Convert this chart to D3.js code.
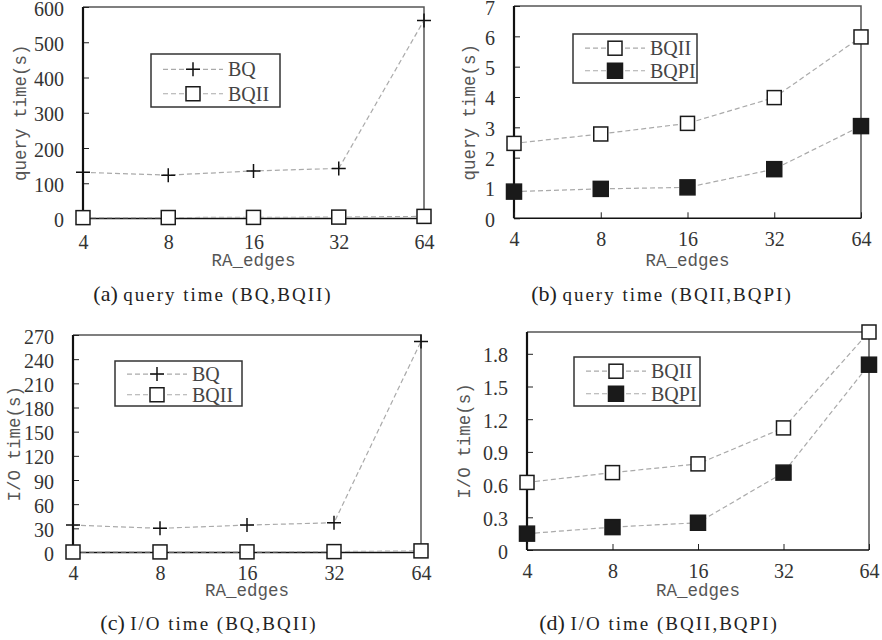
<!DOCTYPE html>
<html>
<meta charset="utf-8">
<style>
    body { margin: 0; background: #fff; }
    .tick text { font: 20px "Liberation Serif", serif; fill: #333; }
    .axtitle { font: 17.5px "Liberation Mono", monospace; fill: #555; }
    .legend text { font: 20px "Liberation Serif", serif; fill: #444; }
    .caption { font: 19px "Liberation Serif", serif; fill: #222; letter-spacing: 2px; }
</style>
<body>
<script src="https://d3js.org/d3.v7.min.js"></script>
<script>

    // data
    var edges = ["4", "8", "16", "32", "64"];

    var queryBQ   = [131, 123, 135, 142, 562];
    var queryBQII = [2.47, 2.78, 3.13, 3.98, 5.98];
    var queryBQPI = [0.88, 0.97, 1.02, 1.62, 3.04];

    var ioBQ   = [34, 30, 34, 37, 262];
    var ioBQII = [0.62, 0.71, 0.79, 1.12, 2.0];
    var ioBQPI = [0.15, 0.21, 0.25, 0.71, 1.70];

    var ticksA = [0, 100, 200, 300, 400, 500, 600];
    var ticksB = [0, 1, 2, 3, 4, 5, 6, 7];
    var ticksC = [0, 30, 60, 90, 120, 150, 180, 210, 240, 270];
    var ticksD = [0, 0.3, 0.6, 0.9, 1.2, 1.5, 1.8];

    var W = 882, H = 640;

    var svg = d3.select("body").append("svg")
        .attr("width", W)
        .attr("height", H);

    var panels = [
        {left: 83, right: 424, top: 7, bottom: 218.5, ymax: 600, ticks: ticksA, fmt: d3.format("d"),
         ytitle: "query time(s)", ytx: 20, xlabY: 249, xtitleY: 266,
         series: [{name: "BQ", values: queryBQ, mark: "plus"}, {name: "BQII", values: queryBQII, mark: "open"}],
         legend: {x: 151, y: 54, w: 129, h: 53},
         tag: "(a)", caption: "query time (BQ,BQII)", capX: 213, capY: 301},
        {left: 514, right: 861, top: 6, bottom: 218.3, ymax: 7, ticks: ticksB, fmt: d3.format("d"),
         ytitle: "query time(s)", ytx: 469, xlabY: 246, xtitleY: 266,
         series: [{name: "BQII", values: queryBQII, mark: "open"}, {name: "BQPI", values: queryBQPI, mark: "filled"}],
         legend: {x: 573, y: 34, w: 124, h: 49},
         tag: "(b)", caption: "query time (BQII,BQPI)", capX: 662, capY: 301},
        {left: 73, right: 421, top: 335, bottom: 552.5, ymax: 270, ticks: ticksC, fmt: d3.format("d"),
         ytitle: "I/O time(s)", ytx: 14, xlabY: 580, xtitleY: 596,
         series: [{name: "BQ", values: ioBQ, mark: "plus"}, {name: "BQII", values: ioBQII, mark: "open"}],
         legend: {x: 115, y: 361, w: 127, h: 45},
         tag: "(c)", caption: "I/O time (BQ,BQII)", capX: 209, capY: 630},
        {left: 527, right: 869, top: 332, bottom: 550, ymax: 2.0, ticks: ticksD, fmt: function(d) { return d === 0 ? "0" : d3.format(".1f")(d); },
         ytitle: "I/O time(s)", ytx: 464, xlabY: 578, xtitleY: 596,
         series: [{name: "BQII", values: ioBQII, mark: "open"}, {name: "BQPI", values: ioBQPI, mark: "filled"}],
         legend: {x: 574, y: 357, w: 126, h: 49},
         tag: "(d)", caption: "I/O time (BQII,BQPI)", capX: 659, capY: 630}
    ];

    function drawMark(g, type, cx, cy) {
        if (type === "plus") {
            g.append("path")
                .attr("d", "M" + (cx - 7) + "," + cy + "H" + (cx + 7) + "M" + cx + "," + (cy - 7) + "V" + (cy + 7))
                .attr("stroke", "#111").attr("stroke-width", 1.5).attr("fill", "none");
        } else {
            var s = type === "filled" ? 15 : 14;
            g.append("rect")
                .attr("x", cx - s / 2).attr("y", cy - s / 2)
                .attr("width", s).attr("height", s)
                .attr("fill", type === "filled" ? "#1a1a1a" : "#fff")
                .attr("stroke", "#1a1a1a").attr("stroke-width", 1.5);
        }
    }

    panels.forEach(function(p) {
        var x = d3.scalePoint().domain(edges).range([p.left, p.right]);
        var y = d3.scaleLinear().domain([0, p.ymax]).range([p.bottom, p.top]);

        var g = svg.append("g");

        // frame: top and right grey
        g.append("path")
            .attr("d", "M" + p.left + "," + p.top + "H" + p.right + "V" + p.bottom)
            .attr("fill", "none").attr("stroke", "#555").attr("stroke-width", 1.5);

        // y axis, ticks inward
        var yAxis = g.append("g")
            .attr("transform", "translate(" + p.left + ",0)")
            .call(d3.axisRight(y).tickValues(p.ticks).tickSize(6).tickFormat(p.fmt));
        yAxis.select(".domain").remove();
        yAxis.selectAll(".tick line").attr("stroke", "#222");
        yAxis.selectAll(".tick text")
            .attr("x", -19).attr("text-anchor", "end").attr("dy", "0.4em");
        g.append("line")
            .attr("x1", p.left).attr("x2", p.left)
            .attr("y1", p.top).attr("y2", p.bottom)
            .attr("stroke", "#111").attr("stroke-width", 2.2);

        // x axis, ticks inward
        var xAxis = g.append("g")
            .attr("transform", "translate(0," + p.bottom + ")")
            .call(d3.axisTop(x).tickSize(6));
        xAxis.select(".domain").remove();
        xAxis.selectAll(".tick line").attr("stroke", "#222");
        xAxis.selectAll(".tick text")
            .attr("y", p.xlabY - p.bottom).attr("dy", "0").attr("text-anchor", "middle");
        g.append("line")
            .attr("x1", p.left).attr("x2", p.right)
            .attr("y1", p.bottom).attr("y2", p.bottom)
            .attr("stroke", "#111").attr("stroke-width", 1.6);

        g.append("text")
            .attr("class", "axtitle")
            .attr("x", (p.left + p.right) / 2)
            .attr("y", p.xtitleY)
            .attr("text-anchor", "middle")
            .text("RA_edges");

        g.append("text")
            .attr("class", "axtitle")
            .attr("transform", "translate(" + p.ytx + "," + ((p.top + p.bottom) / 2) + ") rotate(-90)")
            .attr("dy", "0.35em")
            .attr("text-anchor", "middle")
            .text(p.ytitle);

        // series lines
        var line = d3.line()
            .x(function(d, i) { return x(edges[i]); })
            .y(function(d) { return y(d); });

        p.series.forEach(function(s) {
            g.append("path")
                .attr("d", line(s.values))
                .attr("fill", "none")
                .attr("stroke", "#aaa")
                .attr("stroke-width", 1.2)
                .attr("stroke-dasharray", "5,3");
        });
        p.series.forEach(function(s) {
            s.values.forEach(function(v, i) {
                drawMark(g, s.mark, x(edges[i]), y(v));
            });
        });

        // legend
        var L = p.legend;
        var lg = g.append("g").attr("class", "legend");
        lg.append("rect")
            .attr("x", L.x).attr("y", L.y).attr("width", L.w).attr("height", L.h)
            .attr("fill", "#fff").attr("stroke", "#333").attr("stroke-width", 1.5);
        p.series.forEach(function(s, i) {
            var ry = L.y + (i === 0 ? L.h * 0.29 : L.h * 0.75);
            lg.append("line")
                .attr("x1", L.x + 12).attr("x2", L.x + 72)
                .attr("y1", ry).attr("y2", ry)
                .attr("stroke", "#aaa").attr("stroke-width", 1.2)
                .attr("stroke-dasharray", "5,3");
            drawMark(lg, s.mark, L.x + 42, ry);
            lg.append("text")
                .attr("x", L.x + 77).attr("y", ry)
                .attr("dy", "0.35em")
                .text(s.name);
        });

        // caption
        var cap = g.append("text")
            .attr("class", "caption")
            .attr("x", p.capX).attr("y", p.capY)
            .attr("text-anchor", "middle");
        cap.append("tspan").style("font-size", "22px").style("letter-spacing", "0px").text(p.tag + " ");
        cap.append("tspan").text(p.caption);
    });

</script>
</body>
</html>
